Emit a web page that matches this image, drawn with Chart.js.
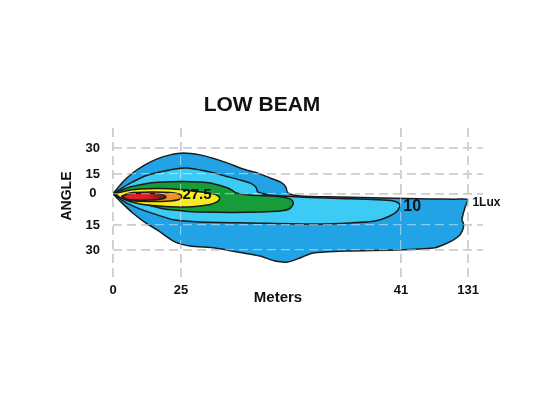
<!DOCTYPE html>
<html>
<head>
<meta charset="utf-8">
<title>Low Beam</title>
<script src="https://cdn.jsdelivr.net/npm/chart.js@4.4.1/dist/chart.umd.min.js"></script>
<style>
  html, body { margin: 0; padding: 0; background: #fff; }
  #wrap { width: 560px; height: 420px; }
</style>
</head>
<body>
<div id="wrap"><canvas id="beamChart" width="560" height="420"></canvas></div>
<script>
// axis ticks: where they sit on the drawn axis, and what is printed
const xTickPos = [0, 1, 4.235, 5.22];
const xTickLabels = ['0', '25', '41', '131'];
const yTickPos = [28.4, 12.2, 0, -19.7, -35.3];
const yTickLabels = ['30', '15', '0', '15', '30'];

// iso-lux outlines, [x, y] in axis units
const lux1 = [[0,-0.3],[0.13,6.6],[0.29,12.8],[0.47,17.8],[0.65,21.6],[0.84,24.1],[1.03,25.3],[1.28,24.1],[1.5,21.6],[1.68,19.1],[1.91,15.3],[2.12,12.8],[2.31,9.7],[2.46,7.2],[2.54,4.1],[2.57,0.3],[2.75,-1.6],[3.34,-2.2],[3.97,-2.8],[4.66,-3.4],[5.03,-3.6],[5.21,-3.75],[5.18,-8.2],[5.15,-12.4],[5.13,-16.6],[5.15,-18.4],[5.15,-21.6],[5.1,-25.9],[5.0,-29.1],[4.85,-32.2],[4.71,-34.1],[4.18,-35.3],[3.44,-35.9],[2.94,-37.2],[2.75,-40.3],[2.57,-42.8],[2.38,-42.2],[2.16,-39.1],[1.87,-36.9],[1.5,-34.1],[1.13,-32.8],[0.91,-30.3],[0.65,-22.8],[0.47,-18.1],[0.29,-12.2],[0.13,-5.9],[0,-0.3]];
const lux10 = [[0,-0.3],[0.13,3.4],[0.29,7.2],[0.47,10.9],[0.69,13.4],[0.91,15.3],[1.09,15.9],[1.28,14.7],[1.43,13.4],[1.65,10.9],[1.87,8.4],[2.01,6.6],[2.1,4.1],[2.13,0.9],[2.31,-0.9],[2.75,-2.2],[3.34,-3.1],[3.97,-4.1],[4.15,-5.0],[4.22,-7.2],[4.18,-10.9],[4.07,-14.1],[3.85,-17.2],[3.49,-18.4],[3.0,-19.1],[2.01,-18.4],[1.28,-17.8],[0.91,-16.6],[0.65,-13.4],[0.47,-10.9],[0.29,-7.8],[0.13,-4.1],[0,-0.3]];
const luxGreen = [[0,-0.3],[0.13,2.2],[0.25,4.1],[0.54,6.6],[0.76,7.2],[1.03,7.5],[1.28,7.2],[1.43,6.6],[1.6,4.7],[1.72,2.8],[1.81,0.3],[2.01,-0.9],[2.31,-1.6],[2.53,-2.5],[2.63,-4.1],[2.65,-6.6],[2.59,-9.7],[2.46,-10.9],[2.16,-11.6],[1.76,-11.9],[1.28,-11.6],[1.03,-10.9],[0.76,-9.7],[0.54,-7.5],[0.32,-5.3],[0.18,-3.1],[0,-0.3]];
const luxYellow = [[0.04,-0.3],[0.18,1.6],[0.4,2.8],[0.69,3.1],[0.99,2.5],[1.16,1.6],[1.35,0.6],[1.5,-0.6],[1.57,-2.8],[1.54,-5.0],[1.43,-6.9],[1.21,-8.1],[0.94,-8.4],[0.69,-7.8],[0.44,-6.9],[0.25,-5.0],[0.1,-2.5],[0.04,-0.3]];
const luxOrange = [[0.12,-1.9],[0.25,0.3],[0.54,0.9],[0.84,0.6],[0.99,-0.6],[1.01,-2.2],[0.97,-3.8],[0.84,-4.7],[0.54,-5.0],[0.25,-4.4],[0.12,-1.9]];
const luxRed = [[0.13,-1.9],[0.22,-0.3],[0.4,0.2],[0.62,0],[0.74,-0.9],[0.78,-2.2],[0.72,-3.4],[0.54,-4.1],[0.32,-4.1],[0.19,-3.4],[0.13,-1.9]];

// labels written on the contours
const contourLabels = ['27.5', '10', '1Lux'];

const FONT = '"Liberation Sans", Arial, sans-serif';
const INK = '#111';

function toPoints(arr) {
    return arr.map(p => ({ x: p[0], y: p[1] }));
}

function contour(data, color, order) {
    return {
        data: toPoints(data),
        backgroundColor: color,
        borderColor: '#1b1b1b',
        borderWidth: 1.5,
        fill: 'shape',
        tension: 0.25,
        pointRadius: 0,
        pointHitRadius: 0,
        order: order
    };
}

// red core goes dark towards its tip
function redCore(ctx) {
    const chart = ctx.chart;
    if (!chart.chartArea) return '#e8202a';
    const x = chart.scales.x;
    const g = chart.ctx.createLinearGradient(x.getPixelForValue(0.13), 0, x.getPixelForValue(0.78), 0);
    g.addColorStop(0, '#ec2027');
    g.addColorStop(0.6, '#d41c22');
    g.addColorStop(1, '#701214');
    return g;
}

// text: title, axis names and contour values
const beamText = {
    id: 'beamText',
    afterDraw(chart) {
        const { ctx, chartArea } = chart;
        const x = chart.scales.x;
        const y = chart.scales.y;
        ctx.save();
        ctx.fillStyle = INK;
        ctx.textAlign = 'center';
        ctx.textBaseline = 'middle';

        ctx.font = 'bold 21px ' + FONT;
        ctx.fillText('LOW BEAM', chartArea.left + 149, chartArea.top - 23);

        ctx.font = 'bold 15px ' + FONT;
        ctx.fillText('Meters', chartArea.left + 165, chartArea.bottom + 21);

        ctx.save();
        ctx.translate(chartArea.left - 46, y.getPixelForValue(-1.6));
        ctx.rotate(-Math.PI / 2);
        ctx.font = 'bold 14px ' + FONT;
        ctx.fillText('ANGLE', 0, 0);
        ctx.restore();

        ctx.font = 'bold 15px ' + FONT;
        ctx.fillText(contourLabels[0], x.getPixelForValue(1.235), y.getPixelForValue(-1.0));
        ctx.font = 'bold 16px ' + FONT;
        ctx.fillText(contourLabels[1], x.getPixelForValue(4.4), y.getPixelForValue(-8.4));
        ctx.font = 'bold 12px ' + FONT;
        ctx.fillText(contourLabels[2], x.getPixelForValue(5.49), y.getPixelForValue(-5.9));
        ctx.restore();
    }
};

const gridDash = [9, 5];
const tickFont = { family: FONT, size: 13, weight: 'bold' };

const ctx = document.getElementById('beamChart').getContext('2d');
new Chart(ctx, {
    type: 'line',
    data: {
        datasets: [
            contour(lux1, '#22a3e5', 6),
            contour(lux10, '#3ccbf4', 5),
            contour(luxGreen, '#179c3a', 4),
            contour(luxYellow, '#f7ec1b', 3),
            contour(luxOrange, '#f5901e', 2),
            Object.assign(contour(luxRed, '#e8202a', 1), { backgroundColor: redCore })
        ]
    },
    options: {
        responsive: false,
        animation: false,
        events: [],
        layout: { padding: { top: 128, right: 77, bottom: 0, left: 0 } },
        plugins: {
            legend: { display: false },
            tooltip: { enabled: false },
            title: { display: false }
        },
        scales: {
            x: {
                type: 'linear',
                min: 0,
                max: 5.44,
                afterBuildTicks: s => { s.ticks = xTickPos.map(v => ({ value: v })); },
                afterFit: s => { s.height = 143; },
                grid: { color: '#a6a6a6', lineWidth: 1.5, drawTicks: false },
                border: { display: false, dash: gridDash },
                ticks: {
                    padding: 6,
                    color: INK,
                    font: tickFont,
                    maxRotation: 0,
                    autoSkip: false,
                    callback: (v, i) => xTickLabels[i]
                }
            },
            y: {
                type: 'linear',
                min: -52.2,
                max: 40.9,
                afterBuildTicks: s => { s.ticks = yTickPos.map(v => ({ value: v })); },
                afterFit: s => { s.width = 113; },
                grid: { color: '#a6a6a6', lineWidth: 1.5, drawTicks: false },
                border: { display: false, dash: gridDash },
                ticks: {
                    padding: 13,
                    crossAlign: 'center',
                    color: INK,
                    font: tickFont,
                    autoSkip: false,
                    callback: (v, i) => yTickLabels[i]
                }
            },
            // faint copies of the grid drawn over the coloured areas
            xOver: {
                type: 'linear',
                position: 'bottom',
                min: 0,
                max: 5.44,
                afterBuildTicks: s => { s.ticks = xTickPos.map(v => ({ value: v })); },
                afterFit: s => { s.height = 0; },
                grid: { color: 'rgba(255,255,255,0.45)', lineWidth: 1.2, drawTicks: false, z: 1 },
                border: { display: false, dash: gridDash },
                ticks: { display: false }
            },
            yOver: {
                type: 'linear',
                position: 'left',
                min: -52.2,
                max: 40.9,
                afterBuildTicks: s => { s.ticks = yTickPos.map(v => ({ value: v })); },
                afterFit: s => { s.width = 0; },
                grid: { color: 'rgba(255,255,255,0.45)', lineWidth: 1.2, drawTicks: false, z: 1 },
                border: { display: false, dash: gridDash },
                ticks: { display: false }
            }
        }
    },
    plugins: [beamText]
});
</script>
</body>
</html>
